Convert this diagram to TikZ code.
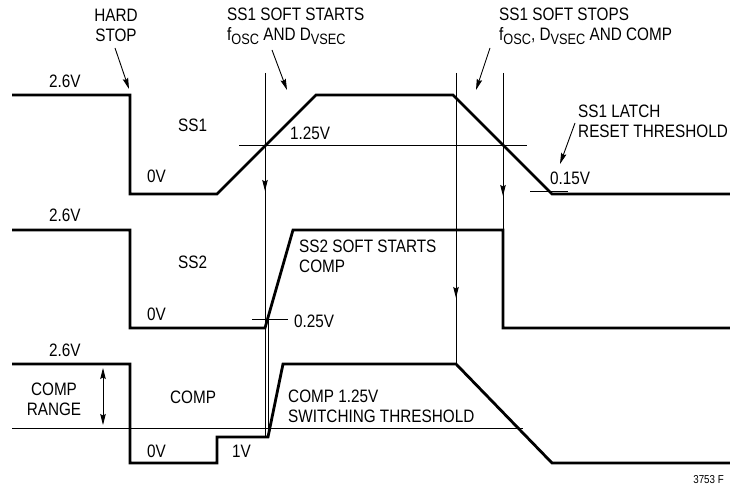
\documentclass[tikz,border=0pt]{standalone}
\usepackage{fontspec}
\setmainfont{Liberation Sans}[FakeStretch=0.85]
\usetikzlibrary{arrows.meta}
\newcommand{\lowtxt}[1]{\raisebox{-0.35ex}{\fontsize{15}{15}\selectfont #1}}
\begin{document}
\begin{tikzpicture}[x=1pt,y=-1pt,
  trace/.style={line width=2.8pt},
  guide/.style={line width=0.9pt},
  arr/.style={line width=0.9pt,-{Stealth[length=11pt,width=5.5pt,inset=1.5pt]}},
  lbl/.style={font=\fontsize{18}{20}\selectfont,inner sep=0pt,anchor=base west},
  multi/.style={font=\fontsize{18}{20}\selectfont,inner sep=0pt,anchor=north west,align=left}]
  \useasboundingbox (0,0) rectangle (730,486);
  % waveforms
  \draw[trace] (12,95) -- (130,95) -- (130,194) -- (217,194) -- (316,95) -- (453,95) -- (552,194) -- (730,194);
  \draw[trace] (12,230) -- (130,230) -- (130,328) -- (265,328) -- (293,230) -- (503,230) -- (503,328) -- (730,328);
  \draw[trace] (12,364) -- (130,364) -- (130,463) -- (217,463) -- (217,437) -- (268,437) -- (283,364) -- (456,364) -- (552,463) -- (730,463);
  % thresholds
  \draw[guide] (239,145) -- (527,145);
  \draw[guide] (530,191) -- (568,191);
  \draw[guide] (252,319) -- (288,319);
  \draw[guide] (12,428) -- (523,428);
  % timing lines
  \draw[arr] (265,73) -- (265,191);
  \draw[guide] (265,185) -- (265,437);
  \draw[guide] (268,319) -- (268,437);
  \draw[arr] (456,73) -- (456,298);
  \draw[guide] (456,290) -- (456,364);
  \draw[arr] (503,73) -- (503,196);
  \draw[guide] (503,190) -- (503,230);
  \draw[guide,{Stealth[length=11pt,width=5.5pt,inset=1.5pt]}-{Stealth[length=11pt,width=5.5pt,inset=1.5pt]}] (103,368) -- (103,425);
  % labels
  \node[multi,align=center,anchor=north] (hard) at (116,9) {HARD\\STOP};
  \node[multi] (ssstart) at (227,8) {SS1 SOFT STARTS\\f\lowtxt{OSC} AND D\lowtxt{VSEC}};
  \node[multi] (ssstop) at (499,8) {SS1 SOFT STOPS\\f\lowtxt{OSC}, D\lowtxt{VSEC} AND COMP};
  \node[multi] (latch) at (578,105) {SS1 LATCH\\RESET THRESHOLD};
  \node[multi] (ss2start) at (299,240) {SS2 SOFT STARTS\\COMP};
  \node[multi,align=center,anchor=north] (range) at (54,383) {COMP\\RANGE};
  \node[multi] (compthr) at (288,390) {COMP 1.25V\\SWITCHING THRESHOLD};
  \coordinate (hardtip) at (129,89);
  \coordinate (starttip) at (287,90);
  \coordinate (stoptip) at (476,90);
  \coordinate (latchtip) at (560,164);
  \draw[arr] (115,48) -- (hardtip);
  \draw[arr] (272,50) -- (starttip);
  \draw[arr] (490,48) -- (stoptip);
  \draw[arr] (575,123) -- (latchtip);
  \node[lbl] (hia) at (49,88) {2.6V};
  \node[lbl] (hib) at (49,222) {2.6V};
  \node[lbl] (hic) at (49,356) {2.6V};
  \node[lbl] (nss1) at (178,132) {SS1};
  \node[lbl] (nss2) at (178,268) {SS2};
  \node[lbl] (ncomp) at (170,403) {COMP};
  \node[lbl] (loa) at (147,183) {0V};
  \node[lbl] (lob) at (147,320) {0V};
  \node[lbl] (loc) at (147,457) {0V};
  \node[lbl] (onev) at (232,457) {1V};
  \node[lbl] (v125) at (290,140) {1.25V};
  \node[lbl] (v015) at (550,185) {0.15V};
  \node[lbl] (v025) at (294,327) {0.25V};
  \node[font=\fontsize{11.5}{12}\selectfont,inner sep=0pt,anchor=base east] (fig) at (724,483) {3753 F};
\end{tikzpicture}
\end{document}
